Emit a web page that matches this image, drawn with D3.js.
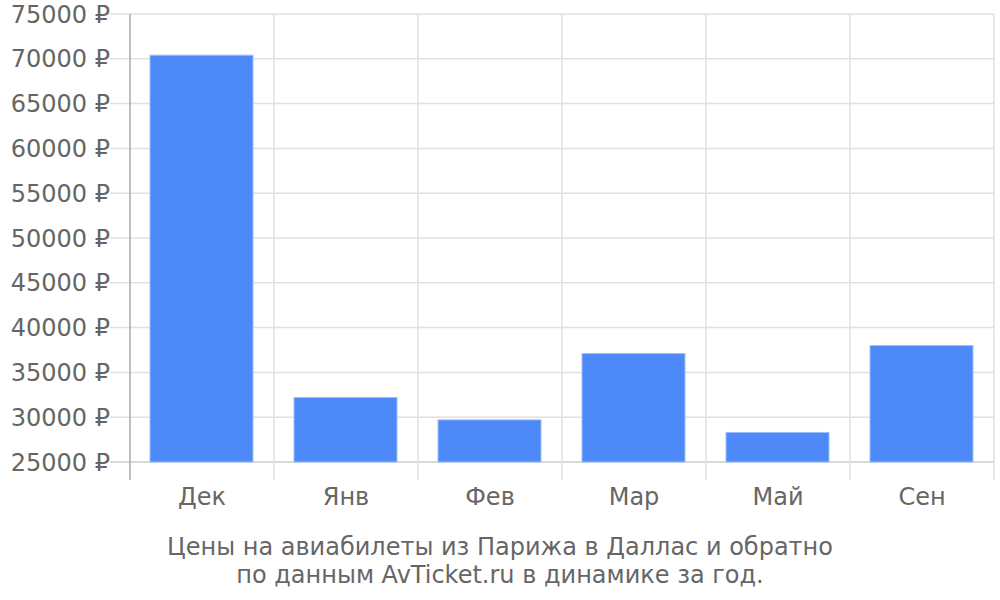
<!DOCTYPE html>
<html><head><meta charset="utf-8">
<script src="https://cdn.jsdelivr.net/npm/d3@7"></script>
<style>body{margin:0;background:#fff;}text{font-family:"DejaVu Sans",sans-serif;}</style>
</head><body>
<svg id="c" width="1000" height="600"></svg>
<script>
const categories = ["Дек","Янв","Фев","Мар","Май","Сен"];
const values = [70400, 32200, 29700, 37100, 28300, 38000];
const yTicks = [25000,30000,35000,40000,45000,50000,55000,60000,65000,70000,75000];
const titleLines = ["Цены на авиабилеты из Парижа в Даллас и обратно","по данным AvTicket.ru в динамике за год."];

const svg = d3.select("#c");
const L=130,R=994,T=14,B=462;
const x = d3.scaleBand().domain(categories).range([L,R]).paddingInner(0).paddingOuter(0);
const y = d3.scaleLinear().domain([25000,75000]).range([B,T]);
const txt="#666";
const fs=24;

// horizontal grid + left ticks
svg.append("g").selectAll("line").data(yTicks).join("line")
  .attr("x1",110).attr("x2",R).attr("y1",d=>y(d)).attr("y2",d=>y(d))
  .attr("stroke",d=>d===25000?"#ccc":"#e0e0e0").attr("stroke-width",1.5);
// vertical grid
const bounds = categories.map(c=>x(c)).concat([R]);
svg.append("g").selectAll("line").data(bounds.slice(1)).join("line")
  .attr("x1",d=>d).attr("x2",d=>d).attr("y1",T).attr("y2",480)
  .attr("stroke","#e0e0e0").attr("stroke-width",1.5);
// left axis
svg.append("line").attr("x1",L).attr("x2",L).attr("y1",T).attr("y2",480)
  .attr("stroke","#aaa").attr("stroke-width",1.5);

// y labels
svg.append("g").selectAll("text").data(yTicks).join("text")
  .attr("x",110).attr("y",d=>y(d)).attr("dy","0.36em").attr("text-anchor","end")
  .attr("fill",txt).attr("font-size",fs).text(d=>d+" ₽");

// bars
const pad=20;
svg.append("g").selectAll("rect").data(values).join("rect")
  .attr("x",(d,i)=>x(categories[i])+pad).attr("width",x.bandwidth()-2*pad-1)
  .attr("y",d=>y(d)).attr("height",d=>y(25000)-y(d))
  .attr("fill","#4d89f9").attr("stroke","#9dbdfb").attr("stroke-width",1);

// x labels
svg.append("g").selectAll("text").data(categories).join("text")
  .attr("x",d=>x(d)+x.bandwidth()/2).attr("y",505).attr("text-anchor","middle")
  .attr("fill",txt).attr("font-size",fs).text(d=>d);

// title
svg.append("g").selectAll("text").data(titleLines).join("text")
  .attr("x",500).attr("y",(d,i)=>555+i*28).attr("text-anchor","middle")
  .attr("fill",txt).attr("font-size",fs).text(d=>d);
</script>
</body></html>
